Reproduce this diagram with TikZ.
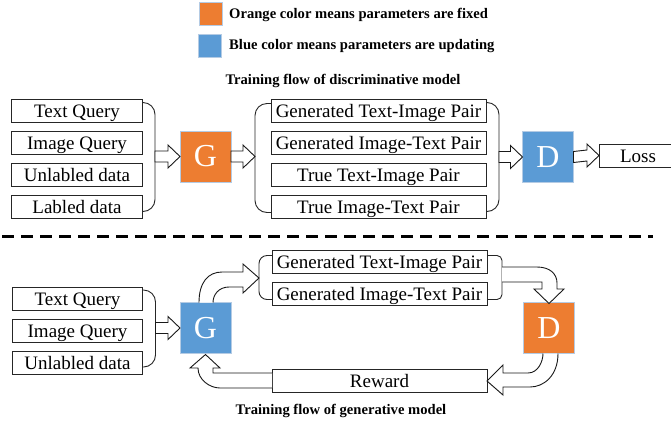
\documentclass[tikz,border=0pt]{standalone}
\usepackage{fontspec}
\setmainfont{Liberation Serif}
\usetikzlibrary{calc}
\definecolor{fixedcol}{HTML}{ED7D31}
\definecolor{updatecol}{HTML}{5B9BD5}
\definecolor{edgecol}{HTML}{B4CBE4}
\tikzset{
  entry/.style={draw=black!85,line width=1pt,outer sep=0pt,inner sep=0pt,minimum height=23pt,
    text height=15pt,text depth=2pt,font=\fontsize{19}{21}\selectfont},
  shortentry/.style={entry,minimum width=130pt},
  longentry/.style={entry,minimum width=215pt},
  model/.style={draw=edgecol,fill=#1,line width=.8pt,outer sep=0pt,inner sep=0pt,minimum size=51pt,
    text=white,font=\fontsize{32}{34}\selectfont},
  swatch/.style={draw=edgecol,fill=#1,line width=.8pt,outer sep=0pt,minimum size=23pt},
  caption/.style={inner sep=0pt,font=\fontsize{14.6}{16}\selectfont\bfseries},
  brace/.style={draw=black!85,line width=.9pt,rounded corners=12pt},
  flow/.style={draw=black!90,fill=white,line width=.9pt,line join=miter}
}
\newcommand{\blockflow}[2]{
  \draw[flow] ($(#1)+(0,-5.5)$) -- ($(#2)+(-12,-5.5)$) -- ($(#2)+(-12,-11.5)$) -- (#2)
    -- ($(#2)+(-12,11.5)$) -- ($(#2)+(-12,5.5)$) -- ($(#1)+(0,5.5)$) -- cycle;
}
\begin{document}
\begin{tikzpicture}[x=1pt,y=-1pt]
  \useasboundingbox (0,0) rectangle (671,424);
  % legend
  \node (fixedbox) at (211,13.5) [swatch=fixedcol] {};
  \node (updatebox) at (210,46) [swatch=updatecol] {};
  \node (fixedtext) at (229,15) [caption,anchor=west] {Orange color means parameters are fixed};
  \node (updatetext) at (229,46) [caption,anchor=west] {Blue color means parameters are updating};
  \node (toptitle) at (343,81) [caption] {Training flow of discriminative model};
  % discriminative part
  \matrix (inputs) at (77,159) [row sep=8pt,inner sep=0pt]
  {
    \node (tq) [shortentry] {Text Query}; \\
    \node (iq) [shortentry] {Image Query}; \\
    \node (ud) [shortentry] {Unlabled data}; \\
    \node (ld) [shortentry] {Labled data}; \\
  };
  \matrix (pairs) at (378.5,159) [row sep=8pt,inner sep=0pt]
  {
    \node (gti) [longentry] {Generated Text-Image Pair}; \\
    \node (git) [longentry] {Generated Image-Text Pair}; \\
    \node (tti) [longentry] {True Text-Image Pair}; \\
    \node (tit) [longentry] {True Image-Text Pair}; \\
  };
  \node (gen) at (205.5,156.5) [model=fixedcol] {G};
  \node (disc) at (548,157) [model=updatecol] {D};
  \node (loss) at (638,155.5) [entry,minimum width=78pt] {Loss};
  \coordinate (ldend) at ([yshift=7pt]ld.south east);
  \coordinate (titl) at ([yshift=6pt]tit.south west);
  \coordinate (titr) at ([yshift=7pt]tit.south east);
  \draw[brace] ([yshift=-3pt]tq.north east) -- ++(13,0) coordinate (a) -- (a |- ldend) -- (ldend);
  \draw[brace] ([yshift=-4pt]gti.north west) -- ++(-16,0) coordinate (b) -- (b |- titl) -- (titl);
  \draw[brace] ([yshift=-3pt]gti.north east) -- ++(13,0) coordinate (c) -- (c |- titr) -- (titr);
  \coordinate (ain) at (a |- gen.west);
  \coordinate (bout) at (b |- gen.east);
  \coordinate (cin) at (c |- disc.west);
  \blockflow{ain}{gen.west}
  \blockflow{gen.east}{bout}
  \blockflow{cin}{disc.west}
  \blockflow{disc.east}{loss.west}
  % separator
  \coordinate (sepl) at (2,236.7);
  \coordinate (sepr) at (653,236.7);
  \draw[line width=2.6pt,dash pattern=on 12pt off 7pt] (sepl) -- (sepr);
  % generative part
  \matrix (inputsb) at (77.5,330.5) [row sep=8pt,inner sep=0pt]
  {
    \node (tqb) [shortentry] {Text Query}; \\
    \node (iqb) [shortentry] {Image Query}; \\
    \node (udb) [shortentry] {Unlabled data}; \\
  };
  \matrix (pairsb) at (379.5,278) [row sep=8pt,inner sep=0pt]
  {
    \node (gtib) [longentry] {Generated Text-Image Pair}; \\
    \node (gitb) [longentry] {Generated Image-Text Pair}; \\
  };
  \node (genb) at (205.5,328) [model=updatecol] {G};
  \node (discb) at (549,328) [model=fixedcol] {D};
  \node (reward) at (379.5,381) [entry,minimum width=215pt] {Reward};
  \coordinate (udend) at ([yshift=7pt]udb.south east);
  \coordinate (gitl) at ([yshift=6pt]gitb.south west);
  \coordinate (gitr) at ([yshift=6pt]gitb.south east);
  \draw[brace] ([yshift=-3pt]tqb.north east) -- ++(13,0) coordinate (d) -- (d |- udend) -- (udend);
  \draw[brace,rounded corners=8pt] ([yshift=-5pt]gtib.north west) -- ++(-13,0) coordinate (e) -- (e |- gitl) -- (gitl);
  \draw[brace,rounded corners=5pt] ([yshift=-5pt]gtib.north east) -- ++(15,0) coordinate (f) -- (f |- gitr) -- (gitr);
  \coordinate (din) at (d |- genb.west);
  \coordinate (eout) at (e |- pairsb.center);
  \blockflow{din}{genb.west}
  \draw[flow] ([xshift=-6.5pt]genb.north) .. controls +(0,-20) and +(-14,0) .. (222,272) -- (243,272)
    -- (243,264) -- (eout) -- (243,293) -- (243,287) -- (229,287)
    .. controls +(-10,0) and +(0,-8) .. ([xshift=7.5pt]genb.north);
  \draw[flow] (f |- 0,267) -- (537,267) .. controls +(13,0) and +(0,-9) .. (557,283) -- (557,289)
    -- (564,289) -- ([yshift=-1pt]discb.north) -- (534,289) -- (542,289) -- (542,282) -- (f |- 0,282);
  \draw[flow] ([xshift=9pt]discb.south) .. controls +(0,22) and +(14,0) .. (530,387) -- (503,387)
    -- (503,395) -- (reward.east) -- (503,365) -- (503,373) -- (528,373)
    .. controls +(10,0) and +(0,8) .. ([xshift=-6pt]discb.south);
  \draw[flow] ([yshift=8pt]reward.west) -- (213,373) -- (213,368) -- (220,368)
    -- ([yshift=-1pt]genb.south) -- (190,368) -- (198,368) .. controls +(0,12) and +(-10,0) .. (220,388)
    -- ([yshift=-7pt]reward.west);
  \node (bottomtitle) at (341,411) [caption] {Training flow of generative model};
\end{tikzpicture}
\end{document}
